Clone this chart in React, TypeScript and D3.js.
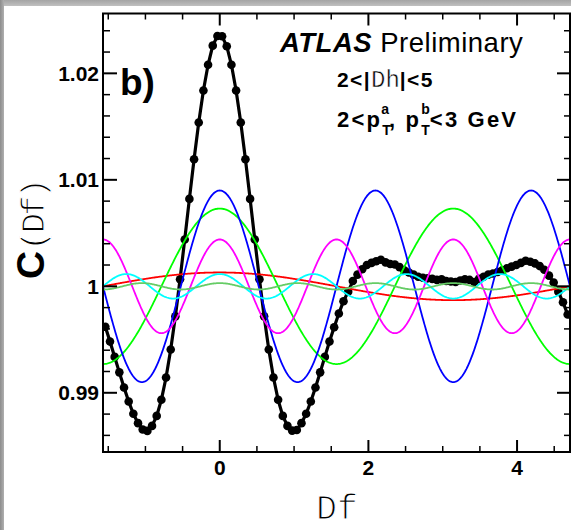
import React from "react";
import * as d3 from "d3";

const W = 571;
const H = 530;
const plotLeft = 103;
const plotRight = 570;
const plotTop = 13.5;
const plotBottom = 452;

const xDomain = [-Math.PI / 2, (3 * Math.PI) / 2];
const yDomain = [0.98444, 1.02562];

const nBins = 100;
const dataValues = [
  0.99620, 0.99481, 0.99337, 0.99192, 0.99050, 0.98918, 0.98803, 0.98715, 0.98655, 0.98642,
  0.98689, 0.98783, 0.98934, 0.99143, 0.99407, 0.99718, 1.00067, 1.00440, 1.00821, 1.01193,
  1.01538, 1.01839, 1.02080, 1.02260, 1.02350, 1.02348, 1.02255, 1.02080, 1.01839, 1.01538,
  1.01193, 1.00821, 1.00440, 1.00067, 0.99718, 0.99407, 0.99143, 0.98934, 0.98783, 0.98689,
  0.98645, 0.98650, 0.98715, 0.98803, 0.98918, 0.99050, 0.99192, 0.99337, 0.99481, 0.99616,
  0.99745, 0.99860, 0.99950, 1.00050, 1.00110, 1.00160, 1.00200, 1.00220, 1.00235, 1.00250,
  1.00225, 1.00210, 1.00205, 1.00180, 1.00150, 1.00130, 1.00110, 1.00090, 1.00080, 1.00075,
  1.00070, 1.00060, 1.00065, 1.00050, 1.00045, 1.00040, 1.00055, 1.00065, 1.00060, 1.00040,
  1.00070, 1.00090, 1.00110, 1.00120, 1.00135, 1.00150, 1.00170, 1.00185, 1.00200, 1.00220,
  1.00240, 1.00230, 1.00215, 1.00190, 1.00155, 1.00100, 1.00035, 0.99950, 0.99850, 0.99735,
];

const harmonicOrders = [1, 2, 3, 4, 5, 6];
const harmonicAmps = [0.0013, 0.0073, 0.009, 0.0044, 0.00115, 0.0003];
const harmonicColors = ["#ff0000", "#00ff00", "#0000ff", "#ff00ff", "#00ffff", "#66cc66"];

const yMajorTicks = [0.99, 1.0, 1.01, 1.02];
const yTickLabels = ["0.99", "1", "1.01", "1.02"];
const xMajorTicks = [0, 2, 4];
const xTickLabels = ["0", "2", "4"];
const yMinorStep = 0.002;
const xMinorStep = 0.5;

const SANS = "'Liberation Sans', Arial, Helvetica, sans-serif";
const MONO = "'Liberation Mono', 'DejaVu Sans Mono', monospace";

export default function App() {
  const x = d3.scaleLinear().domain(xDomain).range([plotLeft, plotRight]);
  const y = d3.scaleLinear().domain(yDomain).range([plotBottom, plotTop]);

  const binW = (xDomain[1] - xDomain[0]) / nBins;
  const points = dataValues.map((v, i) => ({ phi: xDomain[0] + (i + 0.5) * binW, v }));

  const dataLine = d3
    .line<{ phi: number; v: number }>()
    .x((d) => x(d.phi))
    .y((d) => y(d.v));

  const samples = d3.range(0, 601).map((k) => xDomain[0] + (k / 600) * (xDomain[1] - xDomain[0]));
  const curveLine = d3
    .line<number[]>()
    .x((d) => x(d[0]))
    .y((d) => y(d[1]));

  const yMinor = d3.range(0.986, 1.0251, yMinorStep).filter(
    (t) => !yMajorTicks.some((m) => Math.abs(m - t) < 1e-6)
  );
  const xMinor = d3.range(-1.5, 4.75, xMinorStep).filter(
    (t) => !xMajorTicks.some((m) => Math.abs(m - t) < 1e-6)
  );

  return (
    <div style={{ position: "absolute", left: 0, top: 0, width: W, height: H }}>
      <svg width={W} height={H} style={{ display: "block" }}>
        <defs>
          <linearGradient id="topband" x1="0" x2="0" y1="0" y2="1">
            <stop offset="0" stopColor="#a4a4a4" />
            <stop offset="1" stopColor="#c0c0c0" />
          </linearGradient>
          <linearGradient id="leftband" x1="0" x2="1" y1="0" y2="0">
            <stop offset="0" stopColor="#8c8c8c" />
            <stop offset="1" stopColor="#b0b0b0" />
          </linearGradient>
          <clipPath id="plotclip">
            <rect x={plotLeft} y={plotTop} width={plotRight - plotLeft} height={plotBottom - plotTop} />
          </clipPath>
        </defs>
        <rect x={0} y={0} width={W} height={H} fill="#ffffff" />
        <rect x={0} y={0} width={W} height={6} fill="url(#topband)" />
        <rect x={0} y={0} width={4} height={H} fill="url(#leftband)" />

        <g clipPath="url(#plotclip)">
          <path d={dataLine(points) || ""} fill="none" stroke="#000" strokeWidth={3.2} />
          {points.map((p, i) => (
            <circle key={i} cx={x(p.phi)} cy={y(p.v)} r={4.3} fill="#000" />
          ))}
          {harmonicOrders.map((n, j) => (
            <path
              key={n}
              d={curveLine(samples.map((s) => [s, 1 + harmonicAmps[j] * Math.cos(n * s)])) || ""}
              fill="none"
              stroke={harmonicColors[j]}
              strokeWidth={1.8}
            />
          ))}
        </g>

        <rect
          x={plotLeft}
          y={plotTop}
          width={plotRight - plotLeft}
          height={plotBottom - plotTop}
          fill="none"
          stroke="#000"
          strokeWidth={2}
        />

        {yMajorTicks.map((t) => (
          <g key={"ym" + t}>
            <line x1={plotLeft} x2={plotLeft + 14} y1={y(t)} y2={y(t)} stroke="#000" strokeWidth={2} />
            <line x1={plotRight} x2={plotRight - 13} y1={y(t)} y2={y(t)} stroke="#000" strokeWidth={2} />
          </g>
        ))}
        {yMinor.map((t) => (
          <g key={"yn" + t}>
            <line x1={plotLeft} x2={plotLeft + 7} y1={y(t)} y2={y(t)} stroke="#000" strokeWidth={1.5} />
            <line x1={plotRight} x2={plotRight - 6} y1={y(t)} y2={y(t)} stroke="#000" strokeWidth={1.5} />
          </g>
        ))}
        {xMajorTicks.map((t) => (
          <g key={"xm" + t}>
            <line x1={x(t)} x2={x(t)} y1={plotBottom} y2={plotBottom - 12} stroke="#000" strokeWidth={2} />
            <line x1={x(t)} x2={x(t)} y1={plotTop} y2={plotTop + 12} stroke="#000" strokeWidth={2} />
          </g>
        ))}
        {xMinor.map((t) => (
          <g key={"xn" + t}>
            <line x1={x(t)} x2={x(t)} y1={plotBottom} y2={plotBottom - 6} stroke="#000" strokeWidth={1.5} />
            <line x1={x(t)} x2={x(t)} y1={plotTop} y2={plotTop + 6} stroke="#000" strokeWidth={1.5} />
          </g>
        ))}

        {yMajorTicks.map((t, i) => (
          <text
            key={"yl" + t}
            x={plotLeft - 4}
            y={y(t) + 7.5}
            textAnchor="end"
            fontFamily={SANS}
            fontWeight="bold"
            fontSize={21}
          >
            {yTickLabels[i]}
          </text>
        ))}
        {xMajorTicks.map((t, i) => (
          <text
            key={"xl" + t}
            x={x(t)}
            y={475}
            textAnchor="middle"
            fontFamily={SANS}
            fontWeight="bold"
            fontSize={21}
          >
            {xTickLabels[i]}
          </text>
        ))}

        <text x={337} y={519} textAnchor="middle" fontFamily={MONO} fontSize={35} fill="#000" stroke="#fff" strokeWidth={1.2}>
          Df
        </text>
        <text transform="translate(44,230) rotate(-90)" textAnchor="middle" fontFamily={SANS}>
          <tspan fontWeight="bold" fontSize={39}>C</tspan>
          <tspan fontFamily={MONO} fontSize={34} letterSpacing={-3} stroke="#fff" strokeWidth={1.2}>(Df)</tspan>
        </text>

        <text x={280} y={52} fontFamily={SANS} fontSize={27.5} letterSpacing={0.5}>
          <tspan fontWeight="bold" fontStyle="italic">ATLAS</tspan>
          <tspan> Preliminary</tspan>
        </text>
        <text x={120} y={95} fontFamily={SANS} fontWeight="bold" fontSize={37}>
          b)
        </text>
        <text x={337} y={87} fontFamily={SANS} fontWeight="bold" fontSize={21} letterSpacing={1.4}>
          <tspan>2&lt;|</tspan>
          <tspan fontFamily={MONO} fontWeight="normal" fontSize={24} letterSpacing={0} stroke="#fff" strokeWidth={0.5}>Dh</tspan>
          <tspan>|&lt;5</tspan>
        </text>
        <text x={337} y={127} fontFamily={SANS} fontWeight="bold" fontSize={22} letterSpacing={2.2}>
          <tspan>2&lt;p</tspan>
          <tspan fontSize={14} letterSpacing={0} dy={8}>T</tspan>
          <tspan fontSize={14} letterSpacing={0} dx={-8.5} dy={-21}>a</tspan>
          <tspan dy={13}>, p</tspan>
          <tspan fontSize={14} letterSpacing={0} dy={8}>T</tspan>
          <tspan fontSize={14} letterSpacing={0} dx={-8.5} dy={-21}>b</tspan>
          <tspan dy={13}>&lt;3 GeV</tspan>
        </text>
      </svg>
    </div>
  );
}
